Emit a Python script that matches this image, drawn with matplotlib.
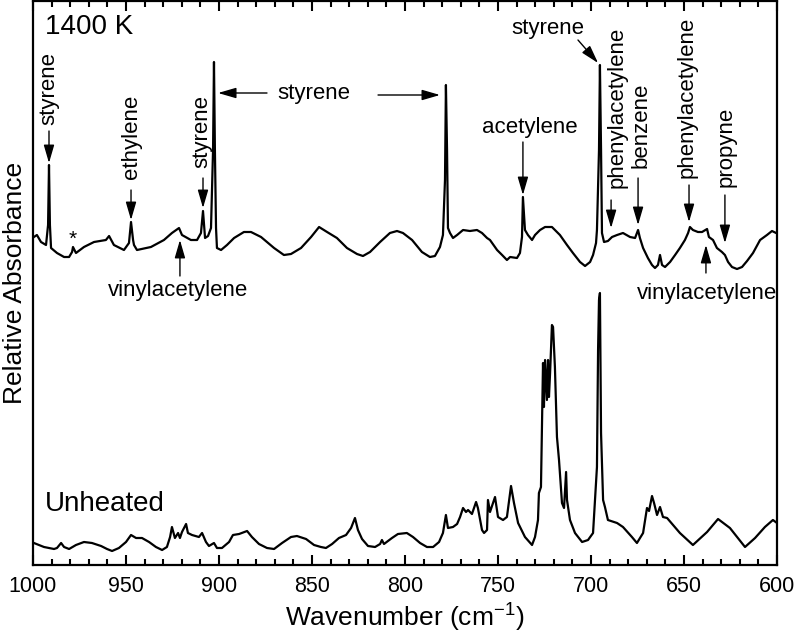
import matplotlib
matplotlib.use("Agg")
import matplotlib.pyplot as plt
from matplotlib.ticker import MultipleLocator

plt.rcParams['font.family'] = ['Liberation Sans', 'DejaVu Sans']

# 1400 K spectrum (wavenumber, relative absorbance)
wn_1400 = [999.5, 997.9, 995.7, 993.0, 991.9, 991.4, 990.9, 990.3, 987.1, 983.3,
           980.6, 979.0, 978.5, 976.9, 972.6, 967.2, 960.8, 959.1, 956.5, 951.1,
           948.4, 947.3, 946.2, 945.7, 944.1, 936.6, 929.6, 925.3, 921.5, 919.9,
           915.1, 911.8, 909.7, 908.6, 907.5, 905.9, 904.3, 903.2, 902.7, 902.2,
           901.6, 901.1, 898.9, 895.7, 891.9, 886.6, 882.8, 877.4, 870.4, 865.1,
           861.3, 855.9, 850.5, 846.2, 841.9, 836.6, 831.2, 825.8, 822.6, 818.8,
           813.4, 808.1, 804.3, 801.1, 796.2, 790.9, 786.6, 783.9, 781.2, 779.6,
           778.5, 778.0, 777.4, 776.9, 775.8, 774.2, 772.0, 768.8, 765.1, 761.3,
           758.6, 755.9, 754.3, 750.5, 747.8, 745.2, 743.5, 739.8, 738.2, 737.1,
           736.6, 735.5, 733.9, 731.7, 730.1, 727.4, 724.7, 721.0, 719.4, 716.7,
           712.9, 709.7, 705.9, 703.2, 700.5, 698.9, 697.3, 696.8, 695.7, 695.2,
           694.6, 694.1, 693.0, 690.9, 688.7, 686.0, 682.8, 679.0, 676.3, 674.7,
           673.7, 672.0, 669.4, 667.2, 665.6, 664.0, 662.9, 661.8, 660.2, 657.5,
           654.8, 652.2, 649.5, 647.8, 646.8, 645.2, 642.5, 640.3, 637.6, 636.6,
           634.4, 632.3, 629.6, 628.0, 626.3, 624.2, 621.5, 618.8, 616.1, 612.9,
           609.1, 605.4, 602.7, 600.5, 600.0]
abs_1400 = [3.28, 3.30, 3.23, 3.20, 3.40, 4.00, 3.40, 3.17, 3.12, 3.08,
            3.08, 3.13, 3.18, 3.12, 3.18, 3.23, 3.25, 3.29, 3.20, 3.15,
            3.22, 3.43, 3.25, 3.20, 3.15, 3.18, 3.25, 3.32, 3.37, 3.30,
            3.25, 3.25, 3.32, 3.54, 3.27, 3.29, 3.37, 4.15, 5.03, 4.15,
            3.37, 3.17, 3.15, 3.20, 3.27, 3.33, 3.33, 3.28, 3.17, 3.10,
            3.11, 3.17, 3.28, 3.38, 3.33, 3.27, 3.17, 3.11, 3.09, 3.13,
            3.23, 3.32, 3.34, 3.32, 3.25, 3.13, 3.08, 3.09, 3.18, 3.30,
            3.85, 4.80, 4.15, 3.37, 3.32, 3.27, 3.30, 3.35, 3.34, 3.35,
            3.32, 3.27, 3.25, 3.15, 3.10, 3.05, 3.08, 3.07, 3.12, 3.28,
            3.68, 3.35, 3.30, 3.25, 3.30, 3.35, 3.38, 3.38, 3.35, 3.30,
            3.20, 3.12, 3.03, 2.99, 3.03, 3.10, 3.22, 3.35, 4.15, 5.00,
            4.15, 3.32, 3.23, 3.24, 3.28, 3.30, 3.32, 3.28, 3.27, 3.35,
            3.27, 3.17, 3.07, 3.00, 2.97, 3.00, 3.10, 3.00, 2.98, 3.03,
            3.10, 3.17, 3.25, 3.32, 3.38, 3.35, 3.33, 3.33, 3.36, 3.28,
            3.25, 3.17, 3.13, 3.10, 3.03, 2.98, 2.96, 2.98, 3.04, 3.12,
            3.25, 3.30, 3.34, 3.32, 3.32]

# Unheated spectrum
wn_cold = [999.5, 996.8, 994.1, 991.4, 988.7, 987.1, 984.9, 983.3, 980.6, 976.9,
           972.6, 968.3, 963.4, 960.2, 957.5, 953.8, 950.0, 947.3, 944.6, 941.4,
           937.6, 933.9, 930.6, 928.0, 926.3, 925.3, 923.7, 922.0, 921.0, 919.9,
           917.7, 916.7, 914.5, 910.8, 909.1, 907.0, 905.4, 902.7, 901.1, 898.4,
           894.6, 892.5, 889.2, 884.9, 882.3, 878.5, 874.2, 870.4, 866.1, 861.3,
           858.1, 853.2, 848.9, 845.2, 842.5, 839.2, 835.5, 831.7, 829.0, 826.9,
           825.3, 823.1, 819.9, 816.1, 813.4, 812.4, 811.3, 807.0, 803.8, 799.0,
           795.7, 791.9, 788.2, 784.9, 781.7, 779.6, 778.0, 776.9, 774.2, 772.0,
           770.4, 768.8, 767.2, 766.1, 764.0, 761.8, 760.8, 758.6, 757.5, 755.9,
           755.4, 754.3, 752.7, 751.6, 750.0, 747.3, 745.2, 743.0, 741.4, 739.2,
           735.5, 731.7, 730.1, 728.5, 728.0, 726.9, 725.8, 725.3, 724.7, 723.7,
           723.1, 722.6, 722.0, 721.0, 720.4, 719.4, 718.3, 717.2, 715.6, 714.5,
           713.4, 712.9, 711.3, 708.6, 704.8, 701.6, 698.9, 696.8, 696.2, 695.7,
           695.2, 694.6, 693.5, 692.5, 690.9, 686.0, 682.8, 678.0, 675.3, 672.0,
           669.9, 668.8, 667.2, 666.1, 664.5, 662.9, 661.3, 659.1, 652.2, 645.2,
           637.6, 631.7, 625.3, 617.2, 611.8, 606.5, 602.2, 600.0]
abs_cold = [0.22, 0.20, 0.18, 0.17, 0.16, 0.17, 0.22, 0.18, 0.16, 0.20,
            0.23, 0.22, 0.19, 0.16, 0.14, 0.17, 0.23, 0.30, 0.27, 0.27,
            0.23, 0.18, 0.15, 0.18, 0.28, 0.38, 0.27, 0.32, 0.27, 0.33,
            0.41, 0.32, 0.30, 0.28, 0.32, 0.23, 0.19, 0.22, 0.17, 0.17,
            0.23, 0.30, 0.31, 0.34, 0.28, 0.21, 0.17, 0.16, 0.22, 0.28,
            0.29, 0.26, 0.20, 0.18, 0.17, 0.21, 0.27, 0.30, 0.37, 0.47,
            0.35, 0.26, 0.19, 0.18, 0.21, 0.25, 0.21, 0.27, 0.31, 0.32,
            0.28, 0.22, 0.18, 0.18, 0.23, 0.32, 0.50, 0.37, 0.38, 0.41,
            0.48, 0.57, 0.53, 0.55, 0.51, 0.63, 0.57, 0.35, 0.32, 0.35,
            0.65, 0.53, 0.62, 0.68, 0.48, 0.45, 0.48, 0.79, 0.62, 0.42,
            0.28, 0.20, 0.28, 0.45, 0.72, 0.78, 2.02, 1.58, 2.05, 1.65,
            2.05, 1.68, 1.92, 2.40, 2.38, 1.98, 1.28, 1.05, 0.62, 0.57,
            0.93, 0.65, 0.45, 0.32, 0.23, 0.25, 0.32, 0.98, 2.15, 2.65,
            2.72, 1.32, 0.65, 0.58, 0.45, 0.42, 0.38, 0.28, 0.22, 0.32,
            0.57, 0.54, 0.69, 0.62, 0.50, 0.58, 0.48, 0.47, 0.32, 0.20,
            0.33, 0.46, 0.37, 0.18, 0.27, 0.38, 0.45, 0.42]

# vertical labels: (text, arrow x, text x, text y, arrow tail y, arrow head y)
vert_labels = [
    ("styrene", 991.4, 991.4, 4.77, 4.34, 4.02),
    ("ethylene", 947.3, 946.8, 4.28, 3.75, 3.45),
    ("styrene", 908.6, 909.1, 4.34, 3.87, 3.57),
    ("phenylacetylene", 689.2, 686.0, 4.58, 3.65, 3.37),
    ("benzene", 674.7, 673.1, 4.40, 3.87, 3.40),
    ("phenylacetylene", 647.3, 648.4, 4.68, 3.80, 3.43),
    ("propyne", 628.0, 627.4, 4.18, 3.70, 3.22),
]

fig = plt.figure(figsize=(7.96, 6.43), dpi=100)
ax = fig.add_axes([33 / 796, 78 / 643, 744 / 796, 564 / 643])

ax.plot(wn_1400, abs_1400, color='black', lw=1.6)
ax.plot(wn_cold, abs_cold, color='black', lw=1.6)

ax.set_xlim(1000, 600)
ax.set_ylim(0, 5.64)
ax.xaxis.set_major_locator(MultipleLocator(50))
ax.xaxis.set_minor_locator(MultipleLocator(10))
ax.tick_params(axis='x', which='both', direction='in', top=True, width=1.5,
               labelsize=15.5, pad=8)
ax.tick_params(axis='x', which='major', length=7)
ax.tick_params(axis='x', which='minor', length=4)
ax.set_yticks([])
for s in ax.spines.values():
    s.set_linewidth(1.6)

ax.set_xlabel('Wavenumber (cm$^{\\mathregular{-1}}$)', fontsize=19, labelpad=2)
ax.set_ylabel('Relative Absorbance', fontsize=19, labelpad=4)

arrow = dict(arrowstyle='-|>,head_length=0.55,head_width=0.16', color='black',
             lw=1.0, shrinkA=0, shrinkB=0, mutation_scale=20)
fs = 16

for txt, xa, xt, yt, y0, y1 in vert_labels:
    ax.text(xt, yt, txt, rotation=90, ha='center', va='center', fontsize=fs)
    ax.annotate('', xy=(xa, y1), xytext=(xa, y0), arrowprops=arrow)

# horizontal styrene with two arrows
ax.text(848.9, 4.71, 'styrene', ha='center', va='center', fontsize=fs)
ax.annotate('', xy=(900.5, 4.72), xytext=(874.2, 4.72), arrowprops=arrow)
ax.annotate('', xy=(781.2, 4.70), xytext=(814.5, 4.70), arrowprops=arrow)

ax.text(732.8, 4.37, 'acetylene', ha='center', va='center', fontsize=fs)
ax.annotate('', xy=(736.6, 3.70), xytext=(736.6, 4.23), arrowprops=arrow)

ax.text(723.1, 5.37, 'styrene', ha='center', va='center', fontsize=fs)
ax.annotate('', xy=(696.2, 5.02), xytext=(707.0, 5.25), arrowprops=arrow)

ax.text(922.0, 2.75, 'vinylacetylene', ha='center', va='center', fontsize=fs)
ax.annotate('', xy=(921.0, 3.25), xytext=(921.0, 2.89), arrowprops=arrow)

ax.text(637.6, 2.72, 'vinylacetylene', ha='center', va='center', fontsize=fs)
ax.annotate('', xy=(638.2, 3.20), xytext=(638.2, 2.92), arrowprops=arrow)

ax.text(978.5, 3.26, '*', ha='center', va='center', fontsize=15)
ax.text(993.5, 5.38, '1400 K', ha='left', va='center', fontsize=20)
ax.text(993.5, 0.61, 'Unheated', ha='left', va='center', fontsize=20)

fig.savefig('out.png', dpi=100)
